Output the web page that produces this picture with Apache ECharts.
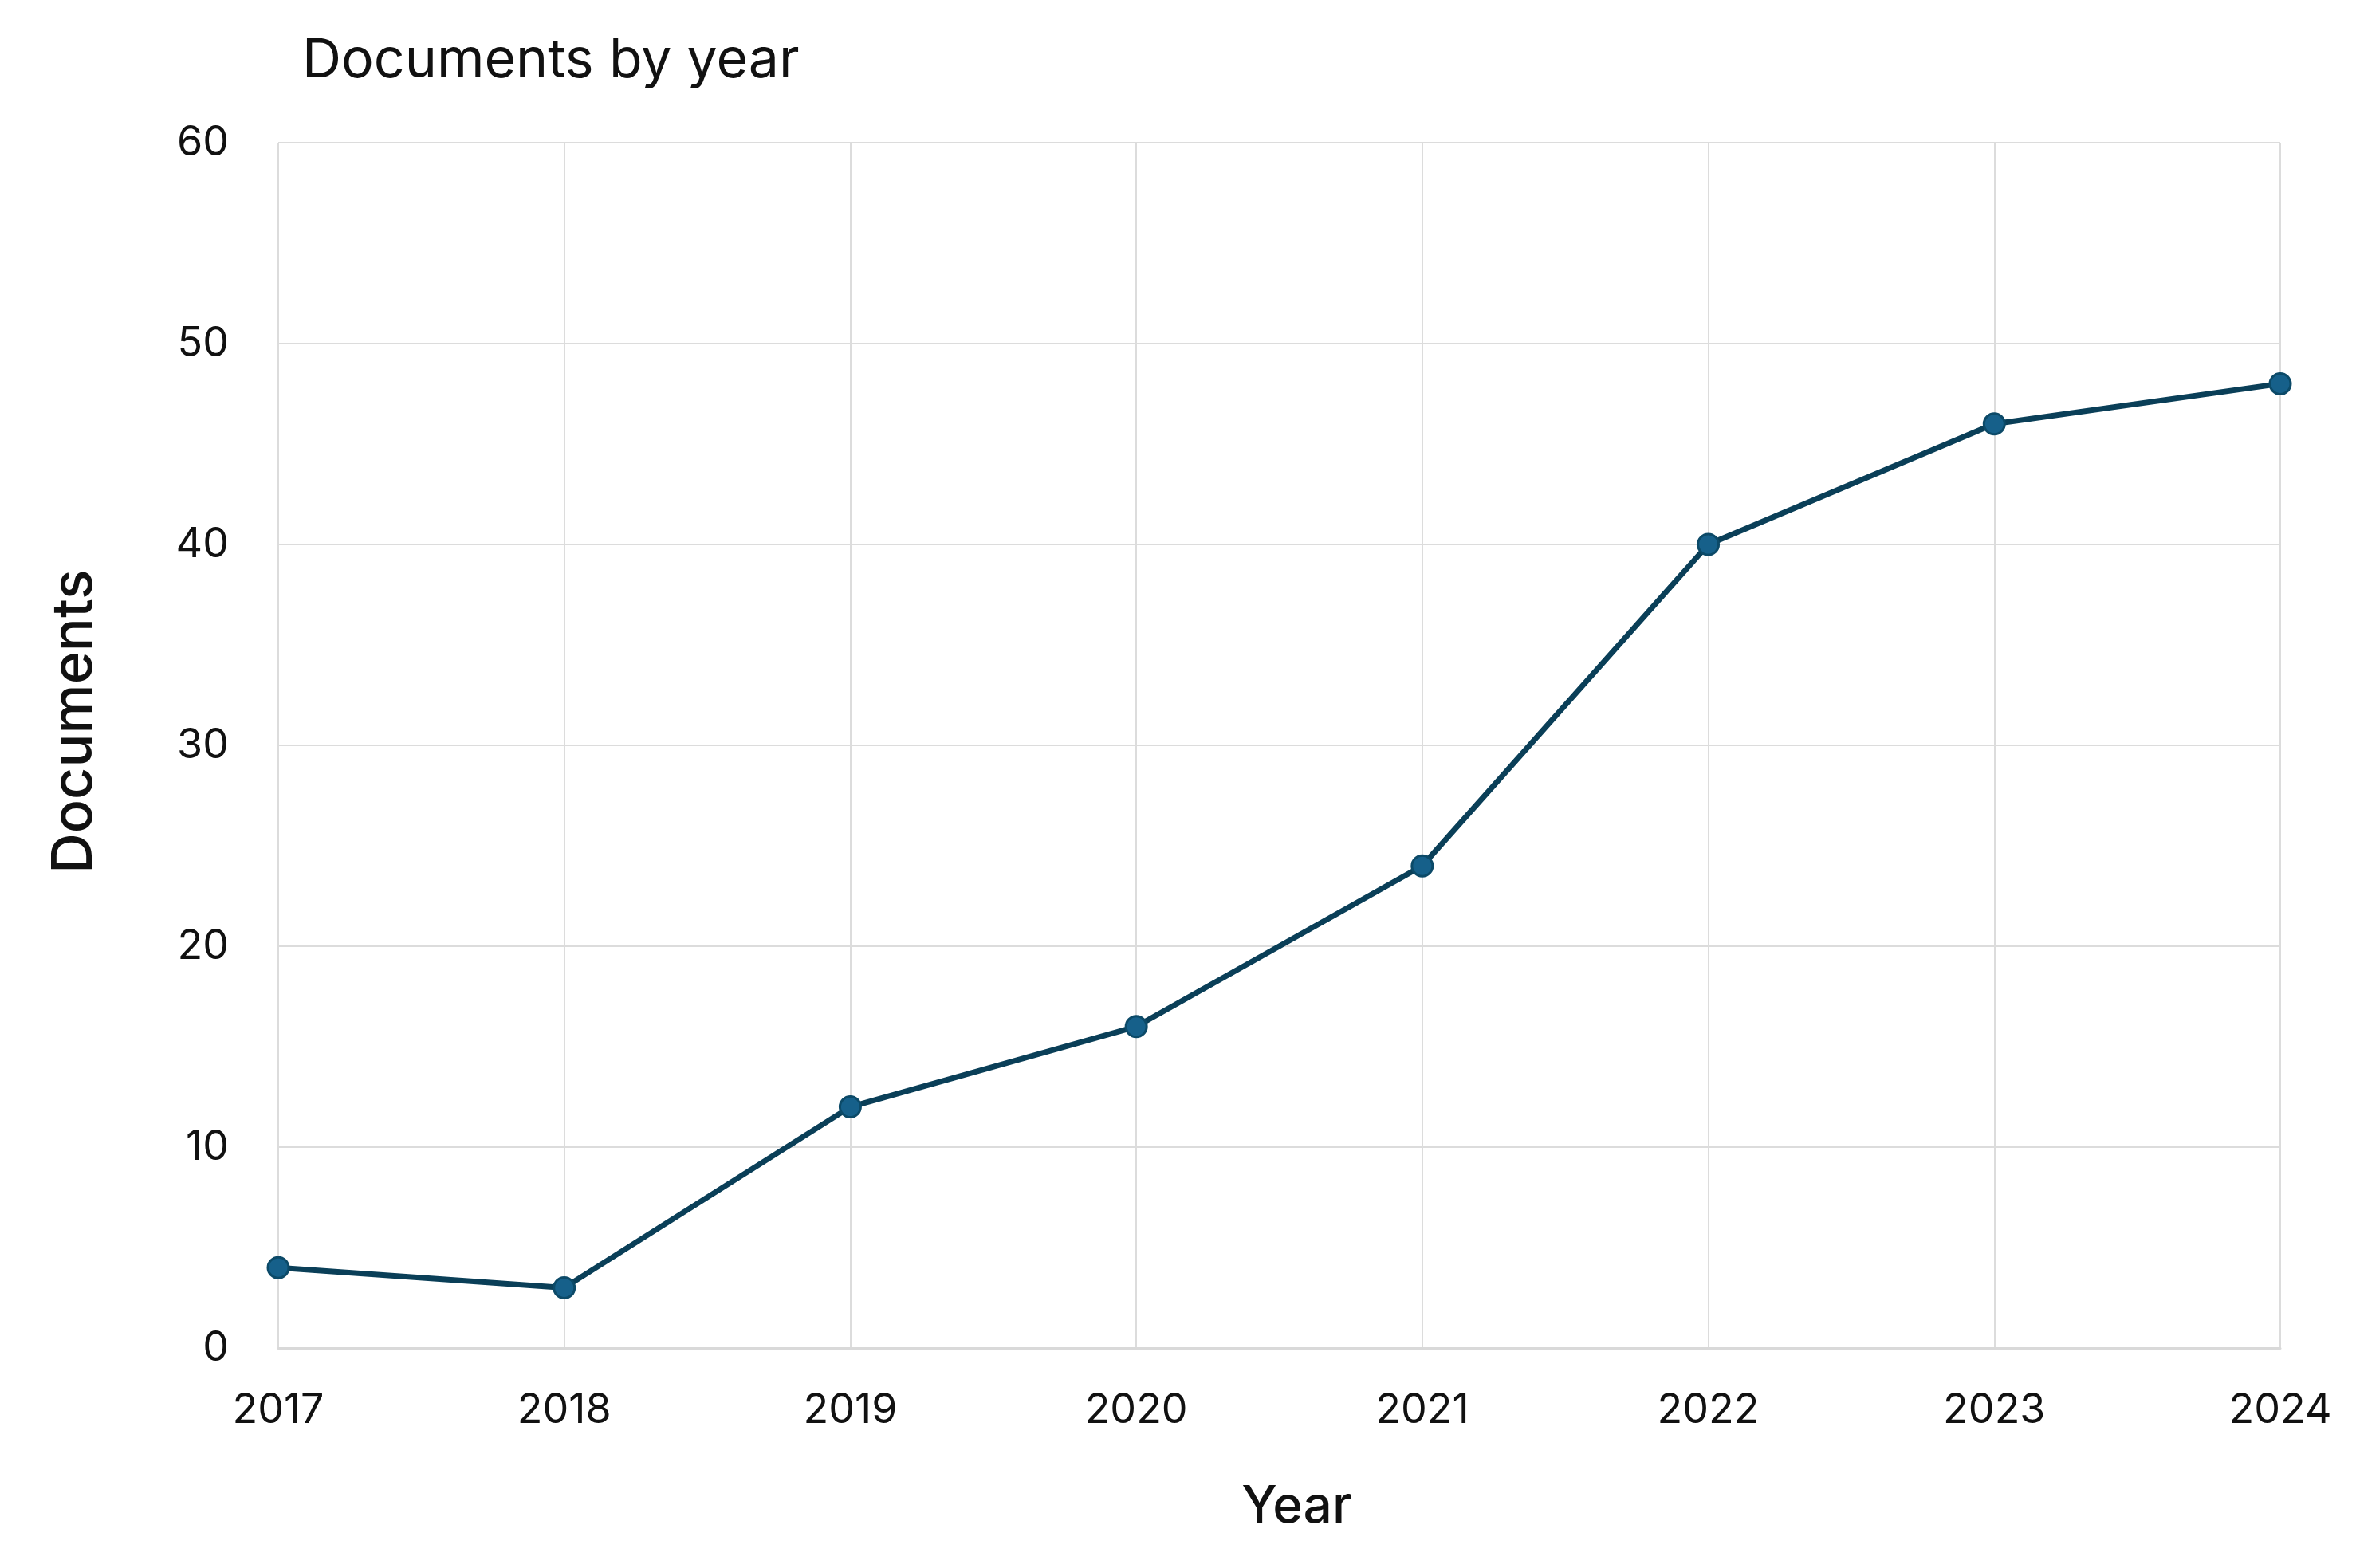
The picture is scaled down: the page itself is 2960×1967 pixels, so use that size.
<!DOCTYPE html>
<html>
<head>
<meta charset="utf-8">
<script src="https://cdn.jsdelivr.net/npm/echarts@6/dist/echarts.min.js"></script>
<style>
html,body{margin:0;padding:0;background:#fff;}
#chart{width:2960px;height:1967px;}
</style>
</head>
<body>
<div id="chart"></div>
<script>
const years = ['2017','2018','2019','2020','2021','2022','2023','2024'];
const documents = [4, 3, 12, 16, 24, 40, 46, 48];
const yTicks = {min: 0, max: 60, interval: 10};

const chart = echarts.init(document.getElementById('chart'));
const font = 'Inter, "Noto Sans", sans-serif';
chart.setOption({
  backgroundColor: '#ffffff',
  animation: false,
  title: {
    text: 'Documents by year',
    left: 374, top: 38,
    textStyle: {fontFamily: font, fontSize: 68, fontWeight: 'normal', color: '#111'}
  },
  grid: {left: 349, right: 100, top: 179, bottom: 276},
  xAxis: {
    type: 'category',
    data: years,
    boundaryGap: false,
    name: 'Year',
    nameLocation: 'middle',
    nameGap: 168,
    nameTextStyle: {fontFamily: font, fontSize: 64, color: '#111', fontWeight: 500, padding: [0, 0, 0, 44]},
    axisLine: {show: true, lineStyle: {color: '#d9d9d9', width: 3}},
    axisTick: {show: false},
    axisLabel: {fontFamily: font, fontSize: 52, color: '#111', margin: 52},
    splitLine: {show: true, lineStyle: {color: '#dcdcdc', width: 2}}
  },
  yAxis: {
    type: 'value',
    min: yTicks.min, max: yTicks.max, interval: yTicks.interval,
    name: 'Documents',
    nameLocation: 'middle',
    nameRotate: 90,
    nameGap: 220,
    nameTextStyle: {fontFamily: font, fontSize: 70, color: '#111', fontWeight: 500, padding: [0, 0, 0, 60]},
    axisLine: {show: false},
    axisTick: {show: false},
    axisLabel: {fontFamily: font, fontSize: 52, color: '#111', margin: 62},
    splitLine: {show: true, lineStyle: {color: '#dcdcdc', width: 2}}
  },
  series: [{
    type: 'line',
    data: documents,
    symbol: 'circle',
    symbolSize: 26,
    lineStyle: {color: '#0a3f58', width: 7},
    itemStyle: {color: '#16608a', borderColor: '#0c4a68', borderWidth: 3}
  }]
});
</script>
</body>
</html>
